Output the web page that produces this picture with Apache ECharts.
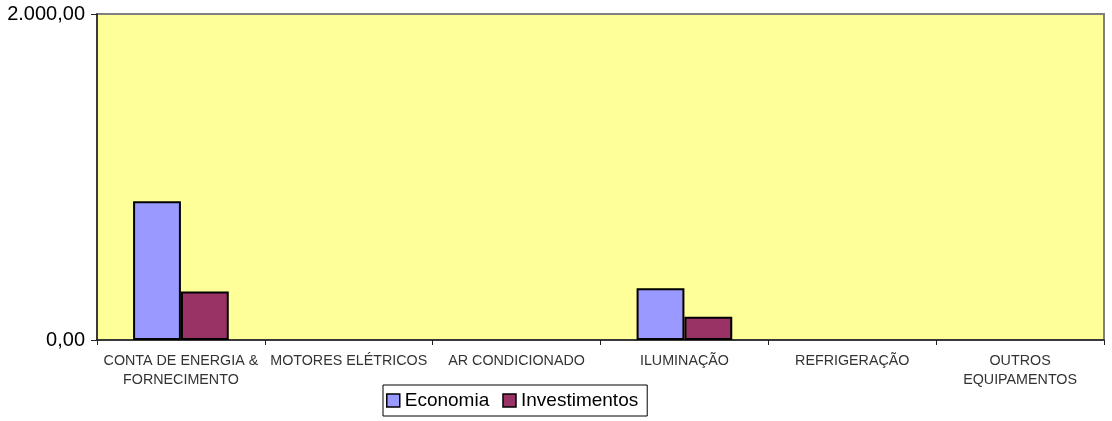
<!DOCTYPE html>
<html><head><meta charset="utf-8">
<script src="https://cdn.jsdelivr.net/npm/echarts@6/dist/echarts.min.js"></script>
<style>html,body{margin:0;padding:0;background:#fff}#c{width:1112px;height:421px}</style>
</head><body><div id="c"></div>
<script>
const categories = ['CONTA DE ENERGIA &\nFORNECIMENTO','MOTORES ELÉTRICOS','AR CONDICIONADO','ILUMINAÇÃO','REFRIGERAÇÃO','OUTROS\nEQUIPAMENTOS'];
const economia = [851, 0, 0, 317, 0, 0];
const investimentos = [297, 0, 0, 143, 0, 0];
const yTicks = {0:'0,00', 2000:'2.000,00'};

const hideZero = arr => arr.map(v => v === 0 ? '-' : v);

const chart = echarts.init(document.getElementById('c'), null, {renderer:'canvas'});
chart.setOption({
  animation:false,
  grid:{left:97,right:8,top:14,bottom:81,show:true,backgroundColor:'#FFFF99',borderColor:'#808080',borderWidth:2},
  legend:{
    data:['Economia','Investimentos'],left:383,top:385,
    padding:[6,9,6,3],itemGap:13,itemWidth:13,itemHeight:13,icon:'rect',
    borderColor:'#000',borderWidth:1,
    itemStyle:{borderColor:'#000',borderWidth:1.5},
    textStyle:{fontFamily:'Liberation Sans, Arial',fontSize:19,color:'#000'}
  },
  xAxis:{type:'category',data:categories,
    axisLine:{lineStyle:{color:'#222',width:1.5}},
    axisTick:{show:true,length:5,lineStyle:{color:'#222'}},
    axisLabel:{interval:0,fontFamily:'Liberation Sans, Arial',fontSize:14.3,color:'#333',lineHeight:19,margin:12}
  },
  yAxis:{type:'value',min:0,max:2000,interval:2000,
    splitLine:{show:false},
    axisLine:{show:true,lineStyle:{color:'#222',width:1.5}},
    axisTick:{show:true,length:6,lineStyle:{color:'#222'}},
    axisLabel:{fontFamily:'Liberation Sans, Arial',fontSize:20,color:'#000',margin:12,formatter:v=>yTicks[v]}
  },
  series:[
    {name:'Economia',type:'bar',data:hideZero(economia),barGap:'0%',barCategoryGap:'43%',
     itemStyle:{color:'#9999FF',borderColor:'#000',borderWidth:2}},
    {name:'Investimentos',type:'bar',data:hideZero(investimentos),
     itemStyle:{color:'#993366',borderColor:'#000',borderWidth:2}}
  ]
});
</script></body></html>
